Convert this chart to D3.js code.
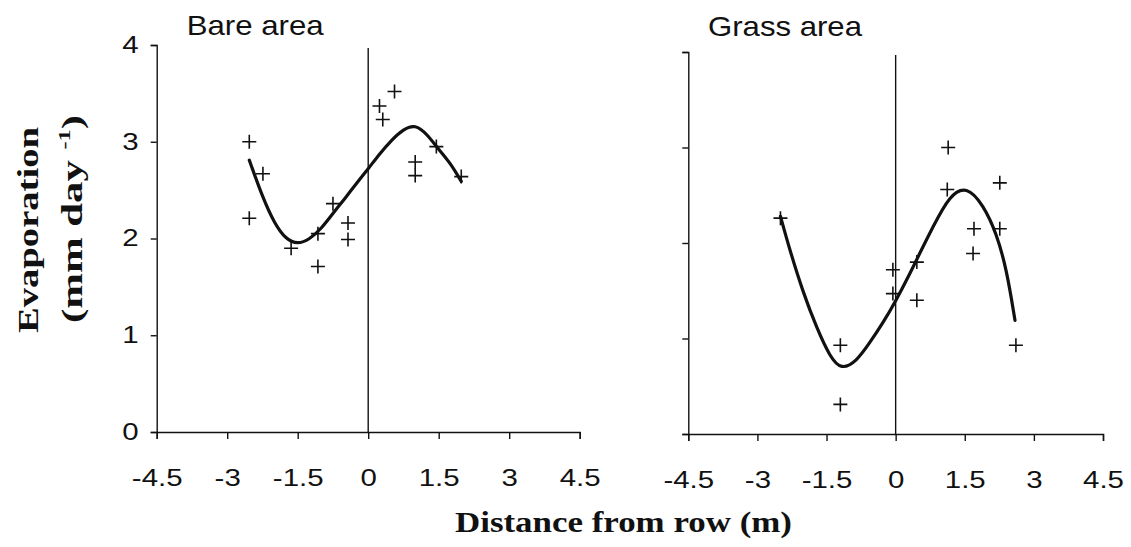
<!DOCTYPE html>
<html>
<head>
<meta charset="utf-8">
<script src="https://cdn.jsdelivr.net/npm/d3@7"></script>
<style>
  body { margin: 0; background: #fff; }
  svg { display: block; }
  .axis path, .axis line { stroke: #111; stroke-width: 1.4; }
  .axis text { font-family: Arial, "Liberation Sans", sans-serif; font-size: 23px; fill: #111; }
</style>
</head>
<body>
<div class="chart"></div>
<script>
// x ticks, y ticks
var xTicks = [-4.5, -3, -1.5, 0, 1.5, 3, 4.5];
var yTicks = [0, 1, 2, 3, 4];

// bare area: observations
var bareX = [-2.53, -2.24, -2.53, -1.64, -1.07, -1.07, -0.75, -0.43, -0.43, 0.24, 0.31, 0.56, 1.0, 1.0, 1.45, 1.98];
var bareY = [3.0, 2.67, 2.21, 1.90, 2.05, 1.71, 2.36, 2.16, 1.99, 3.37, 3.23, 3.52, 2.79, 2.65, 2.95, 2.64];
// bare area: fitted curve
var bareFitX = [-2.53, -2.25, -2, -1.75, -1.5, -1.25, -1, -0.75, -0.5, -0.25, 0, 0.25, 0.5, 0.75, 1, 1.25, 1.5, 1.75, 1.98];
var bareFitY = [2.81, 2.43, 2.16, 1.99, 1.94, 1.99, 2.10, 2.26, 2.41, 2.57, 2.72, 2.88, 3.02, 3.13, 3.18, 3.08, 2.92, 2.78, 2.59];

// grass area: observations
var grassX = [-2.50, 1.14, 1.12, 2.26, 1.70, 2.26, 1.68, -0.06, -0.06, 0.46, 0.46, -1.20, -1.20, 2.61];
var grassY = [2.26, 3.0, 2.56, 2.63, 2.15, 2.15, 1.89, 1.72, 1.47, 1.80, 1.40, 0.93, 0.31, 0.93];
// grass area: fitted curve
var grassFitX = [-2.5, -2.3, -2.0, -1.72, -1.43, -1.18, -0.85, -0.57, -0.28, 0, 0.3, 0.5, 0.81, 1.17, 1.54, 1.9, 2.19, 2.41, 2.59];
var grassFitY = [2.28, 1.93, 1.47, 1.12, 0.81, 0.67, 0.76, 0.95, 1.16, 1.39, 1.67, 1.87, 2.17, 2.50, 2.60, 2.40, 2.10, 1.72, 1.19];

var svgWidth = 1131;
var svgHeight = 547;

var svg = d3.select('.chart')
  .append('svg')
  .attr('width', svgWidth)
  .attr('height', svgHeight);

// stretched text (the scanned figure's lettering is wide)
function label(x, y, str, size, family, weight, len) {
  return svg.append('text')
    .attr('x', x)
    .attr('y', y)
    .attr('font-family', family)
    .attr('font-size', size)
    .attr('font-weight', weight)
    .attr('fill', '#111')
    .attr('textLength', len)
    .attr('lengthAdjust', 'spacingAndGlyphs')
    .text(str);
}

// plain hyphen, as in the original
function fmt(d) { return String(d); }

function panel(opts) {
  var x = d3.scaleLinear().domain([-4.5, 4.5]).range(opts.xRange);
  var y = d3.scaleLinear().domain([0, 4]).range(opts.yRange);

  var g = svg.append('g');

  // x axis
  var xa = g.append('g')
    .attr('class', 'axis')
    .attr('transform', 'translate(0,' + opts.yRange[0] + ')')
    .call(d3.axisBottom(x).tickValues(xTicks).tickSizeOuter(0).tickSize(7).tickFormat(fmt));
  xa.selectAll('.tick text')
    .attr('y', 0).attr('dy', 0)
    .attr('transform', 'translate(0,54) scale(1.28,1)');

  // y axis
  var ya = g.append('g')
    .attr('class', 'axis')
    .attr('transform', 'translate(' + opts.xRange[0] + ',0)')
    .call(d3.axisLeft(y).tickValues(yTicks).tickSizeOuter(0).tickSize(6).tickFormat(fmt));
  ya.selectAll('.tick text')
    .attr('x', 0)
    .attr('transform', 'translate(-18,0) scale(1.28,1)')
    .style('display', opts.yLabels ? null : 'none');

  // vertical line at the row
  g.append('line')
    .attr('x1', x(0)).attr('x2', x(0))
    .attr('y1', opts.vTop).attr('y2', y(0))
    .attr('stroke', '#111')
    .attr('stroke-width', 1.4);

  // fitted curve
  var fit = opts.fitX.map(function(d, i) { return [d, opts.fitY[i]]; });
  g.append('path')
    .datum(fit)
    .attr('fill', 'none')
    .attr('stroke', '#111')
    .attr('stroke-width', 3.2)
    .attr('stroke-linecap', 'round')
    .attr('d', d3.line()
      .x(function(d) { return x(d[0]); })
      .y(function(d) { return y(d[1]); })
      .curve(d3.curveBasis));

  // observations as plus signs
  var pts = opts.ptX.map(function(d, i) { return [d, opts.ptY[i]]; });
  g.selectAll('path.pt')
    .data(pts)
    .enter()
    .append('path')
    .attr('class', 'pt')
    .attr('fill', 'none')
    .attr('stroke', '#111')
    .attr('stroke-width', 1.6)
    .attr('transform', function(d) { return 'translate(' + x(d[0]) + ',' + y(d[1]) + ')'; })
    .attr('d', 'M-7,0H7M0,-7V7');
}

panel({
  xRange: [156.7, 579.7], yRange: [432, 45], vTop: 48,
  ptX: bareX, ptY: bareY, fitX: bareFitX, fitY: bareFitY, yLabels: true
});

panel({
  xRange: [688.3, 1103], yRange: [434, 52], vTop: 55,
  ptX: grassX, ptY: grassY, fitX: grassFitX, fitY: grassFitY, yLabels: false
});

// panel titles
label(186.7, 35, 'Bare area', 28, 'Arial, "Liberation Sans", sans-serif', 'normal', 137);
label(708, 36, 'Grass area', 28, 'Arial, "Liberation Sans", sans-serif', 'normal', 154);

// axis titles
label(455, 532, 'Distance from row (m)', 30, '"Times New Roman", "Liberation Serif", serif', 'bold', 337);

svg.append('text')
  .attr('transform', 'translate(38,333) rotate(-90)')
  .attr('font-family', '"Times New Roman", "Liberation Serif", serif')
  .attr('font-size', 30)
  .attr('font-weight', 'bold')
  .attr('fill', '#111')
  .attr('textLength', 206)
  .attr('lengthAdjust', 'spacingAndGlyphs')
  .text('Evaporation');

var unit = svg.append('text')
  .attr('transform', 'translate(82,323) rotate(-90)')
  .attr('font-family', '"Times New Roman", "Liberation Serif", serif')
  .attr('font-size', 30)
  .attr('font-weight', 'bold')
  .attr('fill', '#111')
  .attr('textLength', 208)
  .attr('lengthAdjust', 'spacingAndGlyphs');
unit.append('tspan').text('(mm day ');
unit.append('tspan').attr('font-size', 17).attr('dy', -12).text('-1');
unit.append('tspan').attr('dy', 12).text(')');
</script>
</body>
</html>
